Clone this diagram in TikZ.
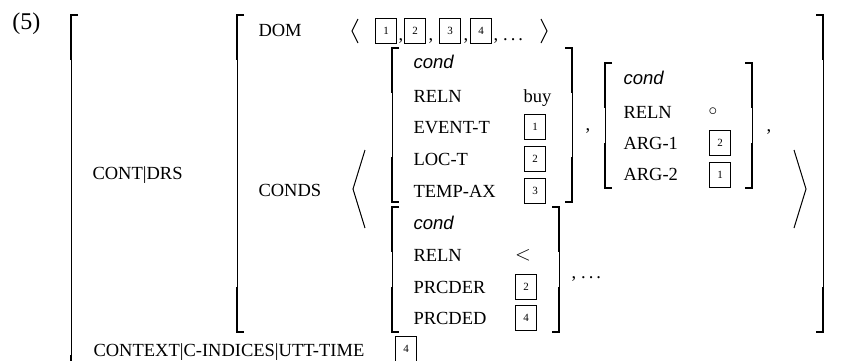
\documentclass[tikz,border=0pt]{standalone}
\usepackage{fontspec}
\setmainfont{Liberation Serif}
\newfontfamily\sortfont{Liberation Sans}
\usetikzlibrary{positioning}

% brackets of an attribute-value matrix: x, top y, bottom y
\newcommand{\avmleft}[3]{%
  \draw[line width=1.8pt, line join=miter] ({#1+7},#2) -- (#1,#2) -- (#1,{#2+45});
  \draw (#1,{#2+45}) -- (#1,{#3-45});
  \draw[line width=1.8pt, line join=miter] (#1,{#3-45}) -- (#1,#3) -- ({#1+7},#3);}
\newcommand{\avmright}[3]{%
  \draw[line width=1.8pt, line join=miter] ({#1-7},#2) -- (#1,#2) -- (#1,{#2+45});
  \draw (#1,{#2+45}) -- (#1,{#3-45});
  \draw[line width=1.8pt, line join=miter] (#1,{#3-45}) -- (#1,#3) -- ({#1-7},#3);}
\newcommand{\avmdots}{,\hspace{5pt}.\hspace{3pt}.\hspace{3pt}.}

\tikzset{
  avmattr/.style={anchor=base west, inner sep=0pt, font=\fontsize{18.5}{20}\selectfont},
  avmsort/.style={anchor=base west, inner sep=0pt, font=\sortfont\itshape\fontsize{18.5}{20}\selectfont},
  avmtag/.style={draw, line width=1.6pt, minimum width=21pt, minimum height=25pt,
    inner sep=0pt, font=\fontsize{11}{11}\selectfont},
}

\begin{document}
\begin{tikzpicture}[x=1pt, y=-1pt, line width=1pt]

  \useasboundingbox (0,0) rectangle (845,360);

  \draw (12,29) node[anchor=base west, inner sep=0pt, font=\fontsize{24}{26}\selectfont, name=exnum] {(5)};

  % outer matrix
  \avmleft{71}{15}{400}
  \draw (92,179) node[avmattr, name=contdrs] {CONT|DRS};
  \draw (93,356) node[avmattr, name=context] {CONTEXT|C-INDICES|UTT-TIME};
  \draw (406,349) node[avmtag, name=utt] {4};

  % the DRS
  \avmleft{237}{15}{332}
  \avmright{823}{15}{332}

  \draw (258,36) node[avmattr, name=dom] {DOM};
  \draw (358,19) -- (352,31) -- (358,43);
  \draw (386,31) node[avmtag, name=dom1] {1};
  \draw (415,31) node[avmtag, name=dom2] {2};
  \draw (450,31) node[avmtag, name=dom3] {3};
  \draw (481,31) node[avmtag, name=dom4] {4};
  \draw (398,40) node[avmattr, name=domc1] {,};
  \draw (428,40) node[avmattr, name=domc2] {,};
  \draw (463,40) node[avmattr, name=domc3] {,};
  \draw (493,40) node[avmattr, name=domdots] {\avmdots};
  \draw (541,19) -- (547,31) -- (541,43);

  \draw (258,196) node[avmattr, name=conds] {CONDS};
  \draw (365,150) -- (353,189) -- (365,228);
  \draw (794,150) -- (806,189) -- (794,228);

  % first condition
  \avmleft{392}{48}{202}
  \avmright{572}{48}{202}
  \draw (413,68) node[avmsort, name=csort1] {cond};
  \draw (413,102) node[avmattr, name=creln1] {RELN};
  \draw (413,133) node[avmattr, name=cevent] {EVENT-T};
  \draw (413,165) node[avmattr, name=cloc] {LOC-T};
  \draw (413,197) node[avmattr, name=ctemp] {TEMP-AX};
  \draw (523,102) node[avmattr, name=buy] {buy};
  \draw (535,127) node[avmtag, name=cevent1] {1};
  \draw (535,159) node[avmtag, name=cloc2] {2};
  \draw (535,191) node[avmtag, name=ctemp3] {3};
  \draw (585,130) node[avmattr, name=comma1] {,};

  % second condition
  \avmleft{605}{63}{188}
  \avmright{752}{63}{188}
  \draw (623,84) node[avmsort, name=csort2] {cond};
  \draw (623,118) node[avmattr, name=creln2] {RELN};
  \draw (623,149) node[avmattr, name=carg1] {ARG-1};
  \draw (623,180) node[avmattr, name=carg2] {ARG-2};
  \draw (713,112) node[inner sep=0pt, font=\fontsize{19}{20}\selectfont, name=circ] {$\circ$};
  \draw (720,143) node[avmtag, name=carg12] {2};
  \draw (720,175) node[avmtag, name=carg21] {1};
  \draw (766,131) node[avmattr, name=comma2] {,};

  % third condition
  \avmleft{392}{207}{332}
  \avmright{559}{207}{332}
  \draw (413,229) node[avmsort, name=csort3] {cond};
  \draw (413,261) node[avmattr, name=creln3] {RELN};
  \draw (413,293) node[avmattr, name=cprcder] {PRCDER};
  \draw (413,324) node[avmattr, name=cprcded] {PRCDED};
  \draw (523,255) node[inner sep=0pt, font=\fontsize{20}{22}\selectfont, name=less] {$<$};
  \draw (526,287) node[avmtag, name=cprcder2] {2};
  \draw (526,318) node[avmtag, name=cprcded4] {4};
  \draw (571,278) node[avmattr, name=moredots] {\avmdots};

\end{tikzpicture}
\end{document}
